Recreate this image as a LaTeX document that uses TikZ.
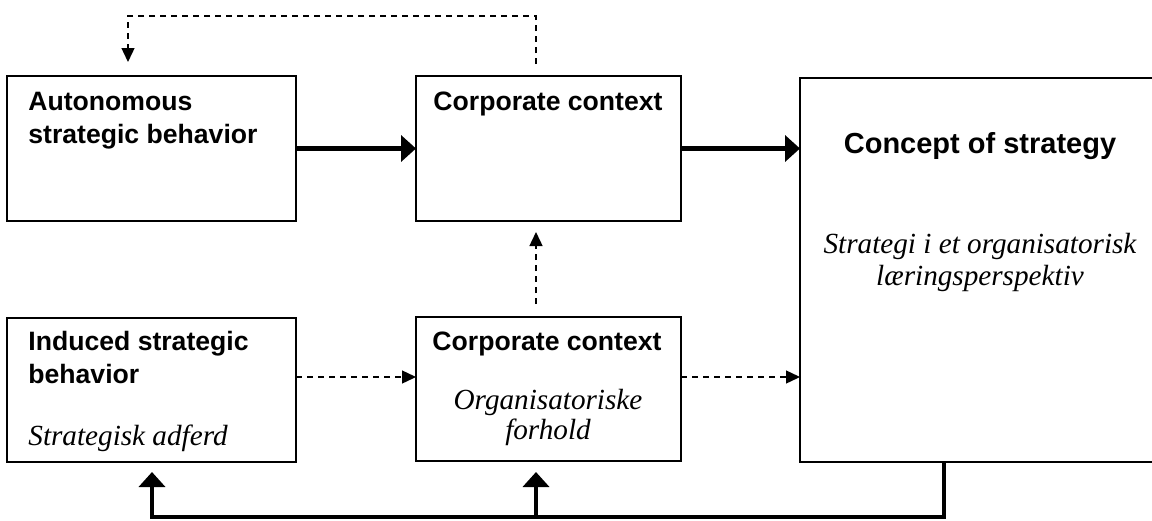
\documentclass[tikz,border=0pt]{standalone}
\usepackage{fontspec}
\setmainfont{Liberation Serif}
\setsansfont{Liberation Sans}
\usetikzlibrary{arrows.meta}
\tikzset{
  box/.style={draw, line width=0.75pt, inner sep=0pt, outer sep=0pt, anchor=north west},
  boldline/.style={line width=2.25pt, line join=miter},
  bigtip/.style={-{Triangle[length=7.5pt,width=13pt]}},
  dashline/.style={line width=0.7pt, dash pattern=on 3pt off 2.5pt},
  smalltip/.style={-{Triangle[length=7pt,width=6.5pt]}},
  hd/.style={font=\sffamily\bfseries\fontsize{13.3}{16}\selectfont, inner sep=0pt},
  bighd/.style={font=\sffamily\bfseries\fontsize{14.5}{17}\selectfont, inner sep=0pt},
  it/.style={font=\rmfamily\itshape\fontsize{14.6}{17}\selectfont, inner sep=0pt}
}
\begin{document}
\begin{tikzpicture}[x=0.5pt,y=-0.5pt]
\useasboundingbox (0,0) rectangle (1152,520);
\clip (0,0) rectangle (1152,520);
% boxes
\node[box, minimum width=144.5pt, minimum height=72.5pt] (A) at (7,76) {};
\node[box, minimum width=132.5pt, minimum height=72.5pt] (B) at (416,76) {};
\node[box, minimum width=180pt, minimum height=192pt] (C) at (800,78) {};
\node[box, minimum width=144.5pt, minimum height=72pt] (E) at (7,318) {};
\node[box, minimum width=132.5pt, minimum height=72pt] (D) at (416,317) {};
% texts
\node[hd, anchor=base west] (tA1) at (28,110) {Autonomous};
\node[hd, anchor=base west] (tA2) at (28,143) {strategic behavior};
\node[hd, anchor=base] (tB) at (548,110) {Corporate context};
\node[bighd, anchor=base] (tC1) at (980,153) {Concept of strategy};
\node[it, anchor=base] (tC2) at (980,253) {Strategi i et organisatorisk};
\node[it, anchor=base] (tC3) at (980,285) {læringsperspektiv};
\node[hd, anchor=base west] (tE1) at (28,350) {Induced strategic};
\node[hd, anchor=base west] (tE2) at (28,383) {behavior};
\node[it, anchor=base west] (tE3) at (28,445) {Strategisk adferd};
\node[hd, anchor=base] (tD1) at (547,350) {Corporate context};
\node[it, anchor=base] (tD2) at (548,409) {Organisatoriske};
\node[it, anchor=base] (tD3) at (548,439) {forhold};
% helper coordinates
\coordinate (vx) at (536,0);
\coordinate (t1) at (536,16);
\coordinate (t2) at (128,16);
\coordinate (h1) at (0,377);
\coordinate (fbC) at (944,517);
\coordinate (fbD) at (536,517);
\coordinate (fbE) at (152,517);
% bold arrows
\draw[boldline, bigtip] (A.east) -- (A.east -| B.west);
\draw[boldline, bigtip] (B.east) -- (B.east -| C.west);
% dashed arrows
\draw[dashline, smalltip] (E.east |- h1) -- (D.west |- h1);
\draw[dashline, smalltip] (D.east |- h1) -- (C.west |- h1);
\draw[dashline, smalltip] ([yshift=6.5pt]vx |- D.north) -- ([yshift=-5.5pt]vx |- B.south);
\draw[dashline, smalltip] ([yshift=6pt]vx |- B.north) -- (t1) -- (t2) -- ([yshift=7pt]t2 |- A.north);
% feedback
\draw[boldline, bigtip] (fbC |- C.south) -- (fbC) -- (fbE) -- ([yshift=-5pt]fbE |- E.south);
\draw[boldline, bigtip] (fbD) -- ([yshift=-5.5pt]fbD |- D.south);
\end{tikzpicture}
\end{document}
